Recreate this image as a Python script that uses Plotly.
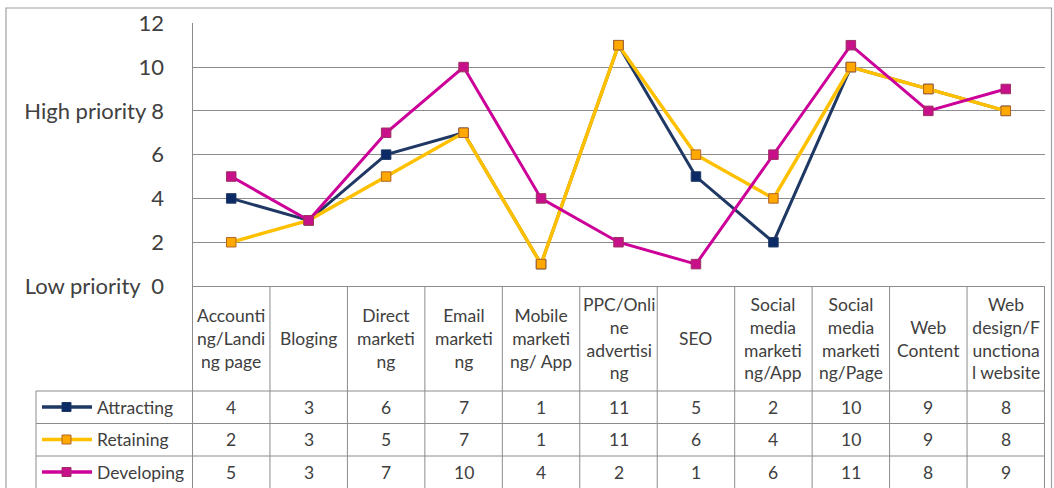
import plotly.graph_objects as go

# ---------------- data ----------------
categories = ["Accounting/Landing page", "Bloging", "Direct marketing", "Email marketing",
              "Mobile marketing/ App", "PPC/Online advertising", "SEO",
              "Social media marketing/App", "Social media marketing/Page",
              "Web Content", "Web design/Functional website"]
header_labels = ["Accounti<br>ng/Landi<br>ng page", "Bloging", "Direct<br>marketi<br>ng",
                 "Email<br>marketi<br>ng", "Mobile<br>marketi<br>ng/ App",
                 "PPC/Onli<br>ne<br>advertisi<br>ng", "SEO", "Social<br>media<br>marketi<br>ng/App",
                 "Social<br>media<br>marketi<br>ng/Page", "Web<br>Content",
                 "Web<br>design/F<br>unctiona<br>l website"]
series_names = ["Attracting", "Retaining", "Developing"]
attracting = [4, 3, 6, 7, 1, 11, 5, 2, 10, 9, 8]
retaining = [2, 3, 5, 7, 1, 11, 6, 4, 10, 9, 8]
developing = [5, 3, 7, 10, 4, 2, 1, 6, 11, 8, 9]
tick_vals = [0, 2, 4, 6, 8, 10, 12]
tick_text = ["Low priority\u00a0 0", "2", "4", "6", "High priority 8", "10", "12"]

# ---------------- layout constants (pixels) ----------------
W, H = 1054, 488
PLOT_L, PLOT_R = 192.5, 1044.5
PLOT_T, PLOT_B = 23.3, 286
ROW_LINES = [391, 423.5, 456]
ROW_CENTERS = [407, 439.5, 472]
LEG_L = 36
FONT = "Lato, 'Open Sans', sans-serif"
TXT = "#404040"
GRID = "#8c8c8c"
CELL_SIZE = 17.5

def px(x):
    return x / W

def py(y):
    return 1 - y / H

styles = {
    "Attracting": dict(line="#1F3864", fill="#0B2A66", edge="#1F3864", lw=3),
    "Retaining": dict(line="#FFC000", fill="#FFA800", edge="#B0652A", lw=3.5),
    "Developing": dict(line="#CC0099", fill="#C8108A", edge="#9C3060", lw=3),
}
values = {"Attracting": attracting, "Retaining": retaining, "Developing": developing}

fig = go.Figure()
for name in series_names:
    s = styles[name]
    fig.add_trace(go.Scatter(
        x=categories, y=values[name], name=name, mode="lines+markers",
        line=dict(color=s["line"], width=s["lw"]),
        marker=dict(symbol="square", size=9.5, color=s["fill"],
                    line=dict(color=s["edge"], width=1)),
        cliponaxis=False, showlegend=False))

shapes = []
# outer frame
shapes.append(dict(type="rect", xref="paper", yref="paper",
                   x0=px(6), x1=px(1051.5), y0=py(8), y1=py(500),
                   line=dict(color="#a0a0a0", width=1.2), fillcolor="rgba(0,0,0,0)"))
# table vertical lines
cw = (PLOT_R - PLOT_L) / len(categories)
for k in range(len(categories) + 1):
    xk = PLOT_L + k * cw
    shapes.append(dict(type="line", xref="paper", yref="paper",
                       x0=px(xk), x1=px(xk), y0=py(PLOT_B), y1=py(500),
                       line=dict(color=GRID, width=1)))
# table horizontal lines
for yl in ROW_LINES:
    shapes.append(dict(type="line", xref="paper", yref="paper",
                       x0=px(LEG_L), x1=px(PLOT_R), y0=py(yl), y1=py(yl),
                       line=dict(color=GRID, width=1)))
# legend column left border
shapes.append(dict(type="line", xref="paper", yref="paper",
                   x0=px(LEG_L), x1=px(LEG_L), y0=py(ROW_LINES[0]), y1=py(500),
                   line=dict(color=GRID, width=1)))

annotations = []
# header labels
for i, lab in enumerate(header_labels):
    annotations.append(dict(x=i, xref="x", y=py((PLOT_B + ROW_LINES[0]) / 2), yref="paper",
                            text=lab, showarrow=False, xanchor="center", yanchor="middle",
                            font=dict(family=FONT, size=CELL_SIZE, color=TXT), align="center"))
# rows: legend key + values
for r, name in enumerate(series_names):
    s = styles[name]
    yc = ROW_CENTERS[r]
    shapes.append(dict(type="line", xref="paper", yref="paper",
                       x0=px(42), x1=px(92), y0=py(yc), y1=py(yc),
                       line=dict(color=s["line"], width=3.5)))
    shapes.append(dict(type="rect", xref="paper", yref="paper",
                       x0=px(62), x1=px(71), y0=py(yc - 4.5), y1=py(yc + 4.5),
                       fillcolor=s["fill"], line=dict(color=s["edge"], width=1)))
    annotations.append(dict(x=px(95), xref="paper", y=py(yc), yref="paper", text=name,
                            showarrow=False, xanchor="left", yanchor="middle",
                            font=dict(family=FONT, size=CELL_SIZE, color=TXT)))
    for i, v in enumerate(values[name]):
        annotations.append(dict(x=i, xref="x", y=py(yc), yref="paper", text=str(v),
                                showarrow=False, xanchor="center", yanchor="middle",
                                font=dict(family=FONT, size=CELL_SIZE, color=TXT)))

fig.update_layout(
    width=W, height=H, margin=dict(l=0, r=0, t=0, b=0, pad=0, autoexpand=False),
    paper_bgcolor="white", plot_bgcolor="white",
    shapes=shapes, annotations=annotations,
    xaxis=dict(domain=[px(PLOT_L), px(PLOT_R)], type="category", range=[-0.5, 10.5],
               showticklabels=False, showgrid=False, zeroline=False, automargin=False,
               showline=True, linecolor=GRID, linewidth=1, ticks=""),
    yaxis=dict(domain=[py(PLOT_B), py(PLOT_T)], range=[0, 12], automargin=False,
               tickvals=tick_vals, ticktext=tick_text,
               tickfont=dict(family=FONT, size=22, color=TXT),
               showgrid=True, gridcolor=GRID, gridwidth=1, zeroline=False,
               showline=True, linecolor=GRID, linewidth=1, ticks="",
               ticklabelstandoff=23),
)

post = ("var gd=document.getElementById('{plot_id}');"
        "document.body.style.margin='0';document.body.style.overflow='hidden';"
        "gd.style.position='absolute';gd.style.left='0px';gd.style.top='0px';")
fig.write_html("out.html", post_script=post, config={"displayModeBar": False})
